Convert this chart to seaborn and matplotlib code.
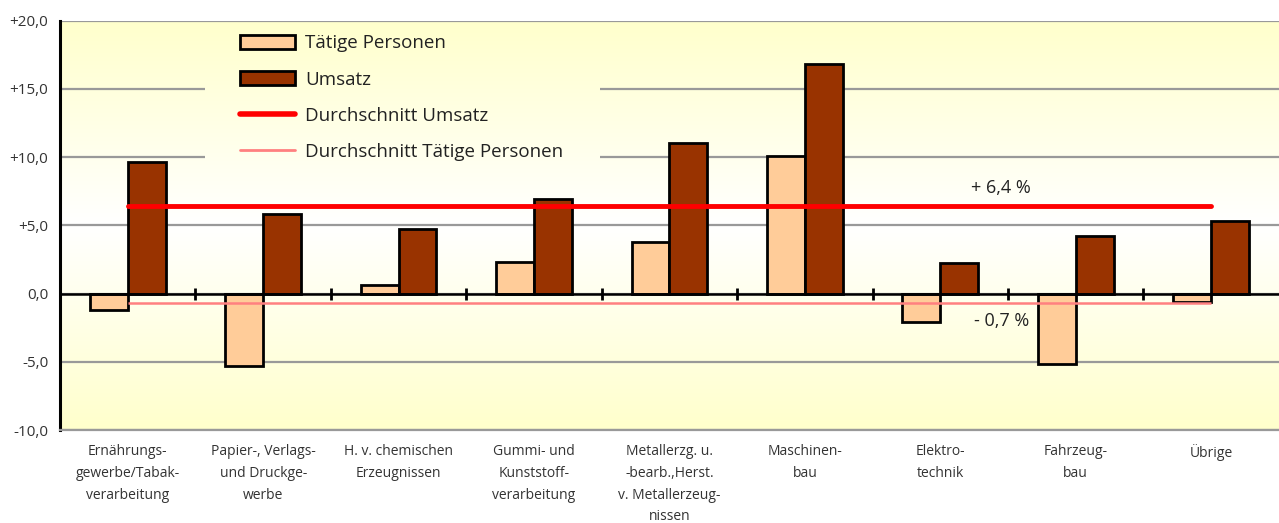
import numpy as np
import pandas as pd
import matplotlib
matplotlib.use("Agg")
import matplotlib.pyplot as plt
import seaborn as sns
from matplotlib.colors import LinearSegmentedColormap
from matplotlib.patches import Rectangle, Patch
from matplotlib.lines import Line2D

# Daten
branchen = ["Ernährungs-\ngewerbe/Tabak-\nverarbeitung",
            "Papier-, Verlags-\nund Druckge-\nwerbe",
            "H. v. chemischen\nErzeugnissen",
            "Gummi- und\nKunststoff-\nverarbeitung",
            "Metallerzg. u.\n-bearb.,Herst.\nv. Metallerzeug-\nnissen",
            "Maschinen-\nbau",
            "Elektro-\ntechnik",
            "Fahrzeug-\nbau",
            "Übrige"]
taetige = [-1.2, -5.3, 0.6, 2.3, 3.8, 10.1, -2.1, -5.2, -0.6]
umsatz = [9.6, 5.8, 4.7, 6.9, 11.0, 16.8, 2.2, 4.2, 5.3]
avg_umsatz = 6.4
avg_taetige = -0.7
yticks = [-10, -5, 0, 5, 10, 15, 20]
serien = ["Tätige Personen", "Umsatz"]

df = pd.DataFrame({
    "branche": branchen * 2,
    "serie": [serien[0]] * len(branchen) + [serien[1]] * len(branchen),
    "wert": taetige + umsatz,
})

sns.set_style("white")
plt.rcParams["font.family"] = ["Open Sans", "DejaVu Sans"]

fig = plt.figure(figsize=(12.79, 5.23), dpi=100)
ax = fig.add_axes([0.0469, 0.1778, 0.953, 0.783])

n = len(branchen)
ymin, ymax = yticks[0], yticks[-1]

# Hintergrund-Verlauf (gelb - weiss - gelb)
cmap = LinearSegmentedColormap.from_list("bg", ["#FFFFCC", "#FFFFFF", "#FFFFCC"])
grad = np.linspace(1, 0, 256).reshape(-1, 1)
ext = (-0.5, n - 0.5, ymin, ymax)
ax.imshow(grad, extent=ext, aspect="auto", cmap=cmap, zorder=0)

sns.barplot(data=df, x="branche", y="wert", hue="serie", hue_order=serien,
            palette=["#FFCC99", "#993300"], width=0.56, edgecolor="black",
            linewidth=2, saturation=1, ax=ax, legend=False, zorder=2)

ax.hlines(avg_umsatz, 0, n - 1, color="#FF0000", lw=3.5, zorder=4,
          capstyle="round")
ax.hlines(avg_taetige, 0, n - 1, color="#FF8080", lw=1.8, zorder=4)

ax.text(6.45, avg_umsatz + 1.35, "+ 6,4 %", ha="center", va="center",
        fontsize=13, color="#222222", zorder=5)
ax.text(6.45, avg_taetige - 1.35, "- 0,7 %", ha="center", va="center",
        fontsize=13, color="#222222", zorder=5)

ax.set_xlim(-0.5, n - 0.5)
ax.set_ylim(ymin, ymax)

ax.set_yticks(yticks)
ax.set_yticklabels(["0,0" if v == 0 else f"{v:+.1f}".replace(".", ",") for v in yticks])
ax.yaxis.grid(True, color="#999999", lw=1.6)
ax.set_axisbelow(True)

# Legendenbereich ohne Gitterlinien
maske = Rectangle((0.119, 0.652), 0.324, 0.338, transform=ax.transAxes,
                  facecolor="none", edgecolor="none")
ax.add_patch(maske)
bg2 = ax.imshow(grad, extent=ext, aspect="auto", cmap=cmap, zorder=0.8)
bg2.set_clip_path(maske)

ax.set_xlabel("")
ax.set_ylabel("")
ax.tick_params(axis="x", length=0, pad=10, labelsize=10, labelcolor="#333333")
for lab in ax.get_xticklabels():
    lab.set_linespacing(1.62)
    lab.set_va("top")
ax.tick_params(axis="y", length=5, width=1.5, color="black", direction="out",
               labelsize=11, labelcolor="#333333")

for s in ["top", "right"]:
    ax.spines[s].set_visible(False)
ax.spines["left"].set_color("black")
ax.spines["left"].set_linewidth(2.2)
ax.spines["bottom"].set_color("#999999")
ax.spines["bottom"].set_linewidth(1.6)

# Nulllinie mit Trennstrichen zwischen den Gruppen
null = ax.secondary_xaxis(0, transform=ax.transData)
null.set_zorder(3)
null.set_xticks(np.arange(0.5, n - 1, 1.0))
null.tick_params(direction="inout", length=9, width=2, color="black",
                 labelbottom=False)
null.spines["bottom"].set_linewidth(1.8)
null.spines["bottom"].set_color("black")

leg_handles = [Patch(facecolor="#FFCC99", edgecolor="black", lw=2),
               Patch(facecolor="#993300", edgecolor="black", lw=2),
               Line2D([], [], color="#FF0000", lw=4, solid_capstyle="round"),
               Line2D([], [], color="#FF8080", lw=2)]
leg = ax.legend(leg_handles, serien + ["Durchschnitt Umsatz", "Durchschnitt Tätige Personen"],
                loc="upper left", bbox_to_anchor=(0.1478, 0.966), frameon=False,
                borderpad=0, borderaxespad=0, fontsize=13.5, handlelength=2.93,
                handleheight=0.75, handletextpad=0.53, labelspacing=0.97)
for t in leg.get_texts():
    t.set_color("#222222")

fig.savefig("out.png", dpi=100)
